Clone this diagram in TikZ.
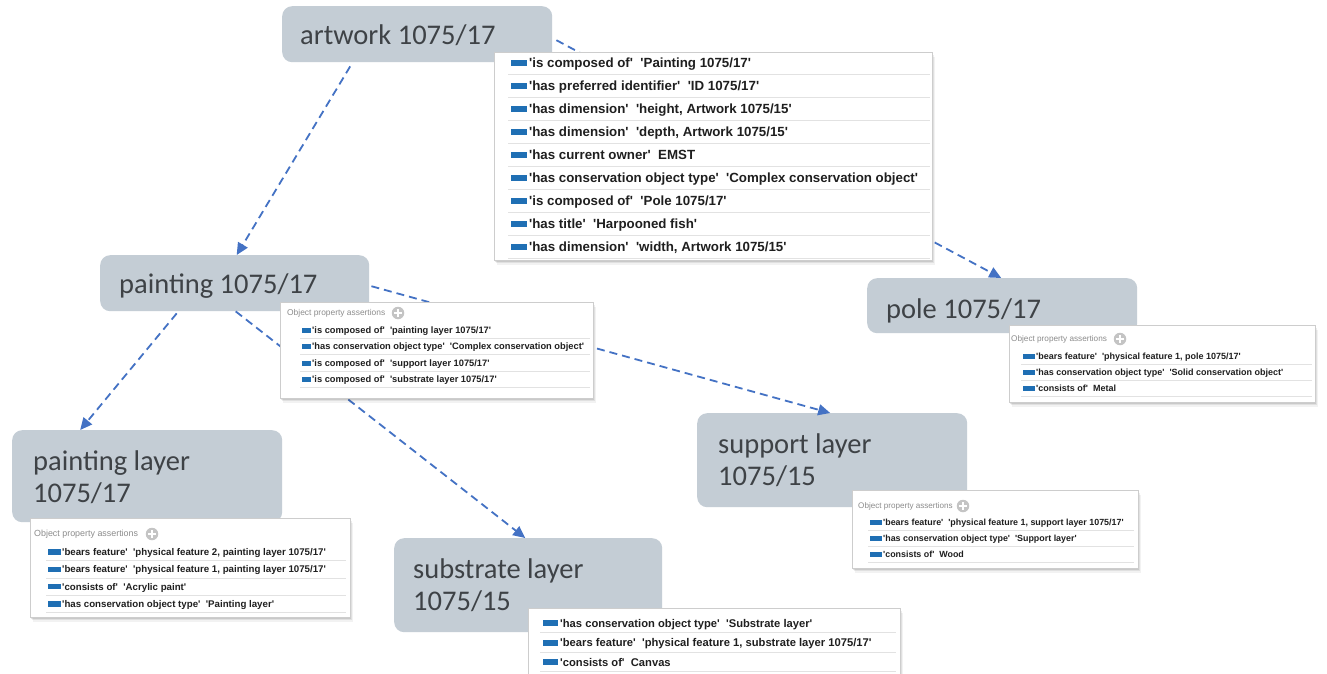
\documentclass[tikz,border=0pt]{standalone}
\usepackage{fontspec}
\setmainfont{Carlito}
\newfontfamily\rowfont{Liberation Sans}
\usetikzlibrary{arrows.meta,shadows}

\definecolor{boxgray}{RGB}{196,205,213}
\definecolor{boxtext}{RGB}{62,66,70}
\definecolor{linkblue}{RGB}{68,114,196}
\definecolor{markblue}{RGB}{31,111,180}
\definecolor{rulegray}{RGB}{226,226,226}
\definecolor{framegray}{RGB}{205,205,205}
\definecolor{headgray}{RGB}{140,140,140}
\definecolor{plusgray}{RGB}{196,196,196}

\tikzset{
  concept/.style={fill=boxgray, draw=none, rounded corners=10pt, anchor=north west, inner sep=0pt},
  conceptlabel/.style={anchor=base west, inner sep=0pt, text=boxtext, font=\fontsize{28.5}{32}\selectfont},
  sheet/.style={fill=white, draw=framegray, line width=0.6pt, anchor=north west, inner sep=0pt,
    general shadow={shadow xshift=1pt,shadow yshift=-1.5pt,fill=black,opacity=.10},
    general shadow={shadow xshift=2pt,shadow yshift=-3pt,fill=black,opacity=.07},
    general shadow={shadow xshift=3pt,shadow yshift=-4.5pt,fill=black,opacity=.05}},
  link/.style={draw=linkblue, line width=1.8pt, dash pattern=on 8pt off 5pt,
    -{Triangle[length=12pt,width=11pt]}},
  rowtext/.style={anchor=base west, inner sep=0pt, text=black!88},
  headtext/.style={anchor=west, inner sep=0pt, text=headgray},
  plus/.style={circle, fill=plusgray, minimum size=12.5pt, inner sep=0pt},
  rowmark/.style={fill=markblue},
  rowrule/.style={draw=rulegray, line width=0.6pt},
}

% grey round button with a white cross
\newcommand\plusicon[2]{%
  \node[plus] (#1) at (#2) {};
  \draw[white, line width=1.9pt] ([xshift=-3.8pt]#1.center) -- ([xshift=3.8pt]#1.center)
    ([yshift=-3.8pt]#1.center) -- ([yshift=3.8pt]#1.center);}

\begin{document}
\begin{tikzpicture}[x=1pt,y=-1pt]
\fill[white] (0,0) rectangle (1327,674);
\useasboundingbox (0,0) rectangle (1327,674);

% concept boxes
\node[concept, minimum width=270pt, minimum height=56pt] (art) at (282,6) {};
\node[conceptlabel] (artL) at (300,45) {artwork 1075/17};

\node[concept, minimum width=269pt, minimum height=56pt] (paint) at (100,255) {};
\node[conceptlabel] (paintL) at (119,293) {painting 1075/17};

\node[concept, minimum width=270pt, minimum height=55pt] (pole) at (867,278) {};
\node[conceptlabel] (poleL) at (886,318) {pole 1075/17};

\node[concept, minimum width=270pt, minimum height=92pt] (plyr) at (12,430) {};
\node[conceptlabel] (plyrL1) at (33,470) {painting layer};
\node[conceptlabel] (plyrL2) at (33,502) {1075/17};

\node[concept, minimum width=270pt, minimum height=94pt] (sup) at (697,413) {};
\node[conceptlabel] (supL1) at (718,453) {support layer};
\node[conceptlabel] (supL2) at (718,485) {1075/15};

\node[concept, minimum width=268pt, minimum height=94pt] (sub) at (394,538) {};
\node[conceptlabel] (subL1) at (413,578) {substrate layer};
\node[conceptlabel] (subL2) at (413,610) {1075/15};

% composition links
\draw[link] ([xshift=-67pt,yshift=-4pt]art.south) -- ([xshift=2pt]paint.north);
\draw[link] ([xshift=4pt,yshift=-6pt]art.east) -- ([xshift=-1pt]pole.north);
\draw[link] ([xshift=-58pt,yshift=-2pt]paint.south) -- ([xshift=-67pt]plyr.north);
\draw[link] ([xshift=2pt,yshift=-3pt]paint.east) -- ([xshift=-2pt]sup.north);
\draw[link] ([xshift=1pt]paint.south) -- ([xshift=-3pt]sub.north);

% artwork assertions
\node[sheet, minimum width=438pt, minimum height=208pt] (tArt) at (494,52) {};
\foreach \txt [count=\i] in {
 {'is composed of'\ \ 'Painting 1075/17'},
 {'has preferred identifier'\ \ 'ID 1075/17'},
 {'has dimension'\ \ 'height, Artwork 1075/15'},
 {'has dimension'\ \ 'depth, Artwork 1075/15'},
 {'has current owner'\ \ EMST},
 {'has conservation object type'\ \ 'Complex conservation object'},
 {'is composed of'\ \ 'Pole 1075/17'},
 {'has title'\ \ 'Harpooned fish'},
 {'has dimension'\ \ 'width, Artwork 1075/15'}}{
  \pgfmathsetmacro\yy{63+(\i-1)*23}
  \fill[rowmark] (511,\yy-3) rectangle (527,\yy+3);
  \node[rowtext, font=\rowfont\bfseries\fontsize{13.3}{15}\selectfont] (artrow\i) at (529,\yy+4.8) {\txt};
  \draw[rowrule] (508,\yy+11.5) -- (930,\yy+11.5);
}

% painting assertions
\node[sheet, minimum width=313pt, minimum height=96pt] (tPaint) at (280,302) {};
\node[headtext, font=\rowfont\fontsize{8.4}{10}\selectfont] (tPaintH) at (287,313) {Object property assertions};
\plusicon{tPaintP}{398,313}
\foreach \txt [count=\i] in {
 {'is composed of'\ \ 'painting layer 1075/17'},
 {'has conservation object type'\ \ 'Complex conservation object'},
 {'is composed of'\ \ 'support layer 1075/17'},
 {'is composed of'\ \ 'substrate layer 1075/17'}}{
  \pgfmathsetmacro\yy{330+(\i-1)*16.5}
  \fill[rowmark] (302,\yy-2.5) rectangle (311,\yy+2.5);
  \node[rowtext, font=\rowfont\bfseries\fontsize{9.3}{11}\selectfont] (paintrow\i) at (312,\yy+3.4) {\txt};
  \draw[rowrule] (300,\yy+8.2) -- (590,\yy+8.2);
}

% pole assertions
\node[sheet, minimum width=306pt, minimum height=77pt] (tPole) at (1009,325) {};
\node[headtext, font=\rowfont\fontsize{8.2}{10}\selectfont] (tPoleH) at (1011,339) {Object property assertions};
\plusicon{tPoleP}{1120,339}
\foreach \txt [count=\i] in {
 {'bears feature'\ \ 'physical feature 1, pole 1075/17'},
 {'has conservation object type'\ \ 'Solid conservation object'},
 {'consists of'\ \ Metal}}{
  \pgfmathsetmacro\yy{356+(\i-1)*16}
  \fill[rowmark] (1023,\yy-2.5) rectangle (1035,\yy+2.5);
  \node[rowtext, font=\rowfont\bfseries\fontsize{9}{11}\selectfont] (polerow\i) at (1036,\yy+3.3) {\txt};
  \draw[rowrule] (1021,\yy+8) -- (1312,\yy+8);
}

% painting layer assertions
\node[sheet, minimum width=320pt, minimum height=99pt] (tPlyr) at (30,518) {};
\node[headtext, font=\rowfont\fontsize{8.9}{10}\selectfont] (tPlyrH) at (34,534) {Object property assertions};
\plusicon{tPlyrP}{152,534}
\foreach \txt [count=\i] in {
 {'bears feature'\ \ 'physical feature 2, painting layer 1075/17'},
 {'bears feature'\ \ 'physical feature 1, painting layer 1075/17'},
 {'consists of'\ \ 'Acrylic paint'},
 {'has conservation object type'\ \ 'Painting layer'}}{
  \pgfmathsetmacro\yy{552+(\i-1)*17.3}
  \fill[rowmark] (48,\yy-2.7) rectangle (61,\yy+2.7);
  \node[rowtext, font=\rowfont\bfseries\fontsize{9.7}{11}\selectfont] (plyrrow\i) at (62,\yy+3.5) {\txt};
  \draw[rowrule] (46,\yy+8.6) -- (346,\yy+8.6);
}

% support layer assertions
\node[sheet, minimum width=286pt, minimum height=78pt] (tSup) at (852,490) {};
\node[headtext, font=\rowfont\fontsize{8.1}{10}\selectfont] (tSupH) at (858,506) {Object property assertions};
\plusicon{tSupP}{963,506}
\foreach \txt [count=\i] in {
 {'bears feature'\ \ 'physical feature 1, support layer 1075/17'},
 {'has conservation object type'\ \ 'Support layer'},
 {'consists of'\ \ Wood}}{
  \pgfmathsetmacro\yy{522+(\i-1)*16}
  \fill[rowmark] (870,\yy-2.5) rectangle (882,\yy+2.5);
  \node[rowtext, font=\rowfont\bfseries\fontsize{8.9}{11}\selectfont] (suprow\i) at (883,\yy+3.2) {\txt};
  \draw[rowrule] (868,\yy+8) -- (1134,\yy+8);
}

% substrate layer assertions
\node[sheet, minimum width=372pt, minimum height=80pt] (tSub) at (528,608) {};
\foreach \txt [count=\i] in {
 {'has conservation object type'\ \ 'Substrate layer'},
 {'bears feature'\ \ 'physical feature 1, substrate layer 1075/17'},
 {'consists of'\ \ Canvas}}{
  \pgfmathsetmacro\yy{623+(\i-1)*19.5}
  \fill[rowmark] (543,\yy-3) rectangle (558,\yy+3);
  \node[rowtext, font=\rowfont\bfseries\fontsize{11.2}{13}\selectfont] (subrow\i) at (560,\yy+4) {\txt};
  \draw[rowrule] (540,\yy+9.7) -- (896,\yy+9.7);
}
\end{tikzpicture}
\end{document}
